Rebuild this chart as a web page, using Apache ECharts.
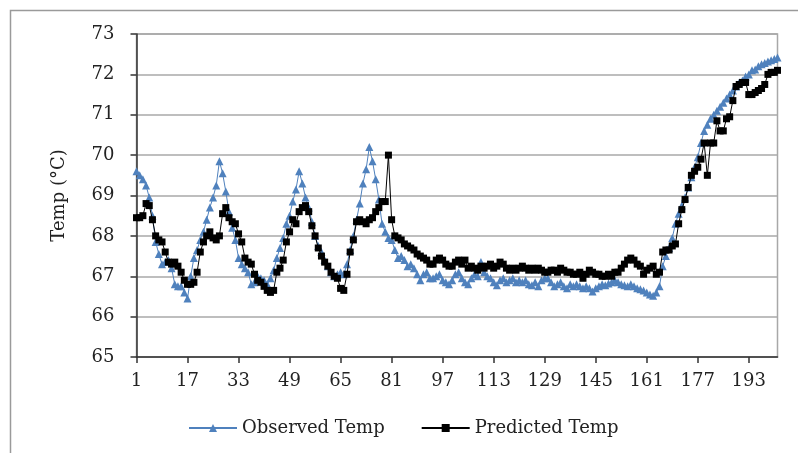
<!DOCTYPE html>
<html><head><meta charset="utf-8">
<script src="https://cdn.jsdelivr.net/npm/echarts@6/dist/echarts.min.js"></script>
<style>html,body{margin:0;padding:0;background:#fff}#c{width:798px;height:453px}</style>
</head><body><div id="c"></div>
<script>
var observed = [69.6,69.5,69.4,69.25,68.95,68.5,67.85,67.55,67.3,67.35,67.4,67.2,66.8,66.75,66.75,66.6,66.45,67.0,67.45,67.65,
67.9,68.1,68.4,68.7,68.95,69.25,69.85,69.55,69.1,68.6,68.2,67.9,67.45,67.3,67.2,67.1,66.8,66.85,67.0,66.95,
66.9,66.8,66.95,67.15,67.45,67.7,67.95,68.3,68.5,68.85,69.15,69.6,69.3,68.95,68.7,68.35,68.0,67.75,67.6,67.4,
67.25,67.1,67.0,67.05,67.1,67.05,67.3,67.65,68.0,68.4,68.8,69.3,69.65,70.2,69.85,69.4,68.9,68.3,68.1,67.95,
67.9,67.65,67.45,67.5,67.4,67.25,67.3,67.2,67.05,66.9,67.05,67.1,66.95,66.95,67.0,67.05,66.9,66.85,66.8,66.9,
67.05,67.1,66.95,66.85,66.8,66.95,67.05,67.0,67.35,67.1,67.0,66.95,66.85,66.78,66.9,66.95,66.85,66.9,66.95,66.85,
66.9,66.85,66.9,66.8,66.78,66.85,66.75,66.9,66.95,66.95,66.85,66.75,66.8,66.85,66.75,66.7,66.8,66.75,66.8,66.75,
66.7,66.75,66.7,66.62,66.7,66.75,66.8,66.78,66.82,66.85,66.9,66.85,66.8,66.78,66.75,66.8,66.75,66.7,66.68,66.65,
66.6,66.55,66.52,66.6,66.75,67.25,67.5,67.7,67.95,68.3,68.55,68.75,68.95,69.2,69.45,69.7,69.95,70.3,70.6,70.75,
70.9,71.0,71.1,71.2,71.3,71.4,71.5,71.6,71.7,71.8,71.85,71.95,72.0,72.1,72.12,72.2,72.25,72.28,72.32,72.35,
72.38,72.42];
var predicted = [68.45,68.45,68.5,68.8,68.75,68.4,68.0,67.9,67.85,67.6,67.35,67.3,67.35,67.25,67.1,66.9,66.8,66.8,66.85,67.1,
67.6,67.85,68.0,68.1,67.95,67.9,68.0,68.55,68.7,68.45,68.35,68.3,68.05,67.85,67.45,67.35,67.3,67.05,66.9,66.85,
66.75,66.65,66.6,66.65,67.1,67.2,67.4,67.85,68.1,68.4,68.3,68.6,68.7,68.75,68.6,68.25,68.0,67.7,67.5,67.35,
67.25,67.1,67.0,66.95,66.7,66.65,67.05,67.6,67.9,68.35,68.4,68.35,68.3,68.4,68.45,68.6,68.7,68.85,68.85,70.0,
68.4,68.0,67.95,67.9,67.8,67.75,67.7,67.65,67.55,67.5,67.45,67.4,67.3,67.3,67.4,67.45,67.4,67.3,67.25,67.25,
67.35,67.4,67.3,67.4,67.2,67.25,67.2,67.15,67.25,67.2,67.25,67.3,67.2,67.25,67.35,67.3,67.2,67.15,67.2,67.15,
67.2,67.25,67.2,67.15,67.2,67.15,67.2,67.15,67.1,67.1,67.15,67.15,67.1,67.2,67.15,67.1,67.1,67.05,67.05,67.1,
66.95,67.05,67.15,67.1,67.05,67.05,67.0,67.0,67.05,67.0,67.1,67.1,67.2,67.3,67.4,67.45,67.4,67.3,67.25,67.05,
67.15,67.2,67.25,67.05,67.1,67.6,67.65,67.65,67.75,67.8,68.3,68.65,68.9,69.2,69.5,69.6,69.7,69.9,70.3,69.5,
70.3,70.3,70.85,70.6,70.6,70.9,70.95,71.35,71.7,71.75,71.8,71.8,71.5,71.5,71.55,71.6,71.65,71.75,72.0,72.05,
72.05,72.1];
var categories = observed.map(function(_, i){ return String(i + 1); });
var yTicks = [65,66,67,68,69,70,71,72,73];

var font = 'DejaVu Serif';
var chart = echarts.init(document.getElementById('c'), null, {renderer:'canvas'});
chart.setOption({
  animation:false,
  backgroundColor:'#fff',
  graphic:[{type:'rect', shape:{x:10.5,y:10.5,width:800,height:460}, style:{fill:'none', stroke:'#9a9a9a', lineWidth:1.5}, z:-1}],
  grid:{left:136.5, right:20.5, top:34, bottom:96, show:true, borderColor:'#a8a8a8', borderWidth:1.5, backgroundColor:'transparent'},
  legend:{
    top:414, left:183, itemWidth:48, itemHeight:10, itemGap:36,
    textStyle:{fontFamily:font, fontSize:18, color:'#222'},
    data:['Observed Temp','Predicted Temp']
  },
  xAxis:{
    type:'category', data:categories, boundaryGap:false,
    axisLine:{lineStyle:{color:'#333', width:1.5}},
    axisTick:{interval:15, length:6, lineStyle:{color:'#333', width:1.5}},
    axisLabel:{interval:15, fontFamily:font, fontSize:18, color:'#222', margin:15},
    splitLine:{show:false}
  },
  yAxis:{
    type:'value', min:65, max:73, interval:1,
    name:'Temp (°C)', nameLocation:'middle', nameGap:68,
    nameTextStyle:{fontFamily:font, fontSize:18, color:'#222'},
    axisLine:{show:true, lineStyle:{color:'#333', width:1.5}},
    axisTick:{show:true, length:6, lineStyle:{color:'#333', width:1.5}},
    axisLabel:{fontFamily:font, fontSize:18, color:'#222', margin:22,
      formatter:function(v){ return yTicks.indexOf(v) >= 0 ? String(v) : ''; }},
    splitLine:{lineStyle:{color:'#a8a8a8', width:1.5}}
  },
  series:[
    {name:'Observed Temp', type:'line', data:observed, symbol:'triangle', symbolSize:8, showAllSymbol:true,
     itemStyle:{color:'#4F81BD'}, lineStyle:{color:'#4F81BD', width:1}, z:2},
    {name:'Predicted Temp', type:'line', data:predicted, symbol:'rect', symbolSize:7, showAllSymbol:true,
     itemStyle:{color:'#000'}, lineStyle:{color:'#000', width:1}, z:3}
  ]
});
</script></body></html>
